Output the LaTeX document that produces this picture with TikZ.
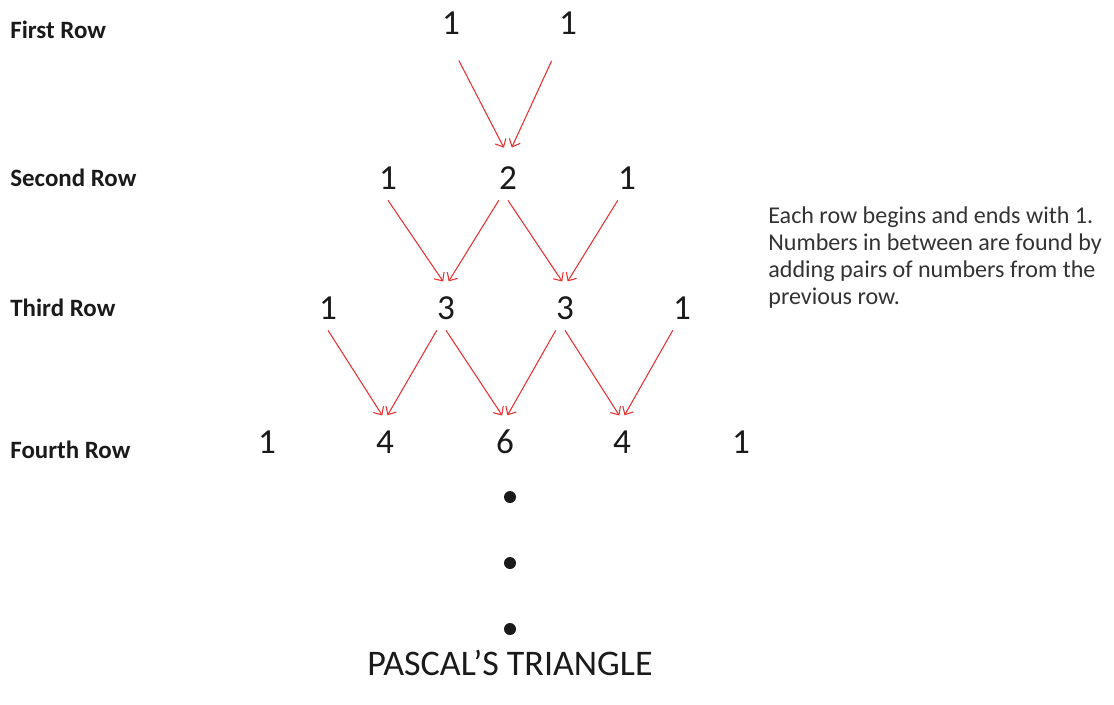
\documentclass[tikz,border=0pt]{standalone}
\usepackage{fontspec}
\setmainfont{Carlito}
\usepackage{tikz}
\usetikzlibrary{arrows.meta}
\definecolor{arrowred}{HTML}{E8302F}
\definecolor{ink}{HTML}{1A1A1A}
\definecolor{note}{HTML}{333333}

\begin{document}
\begin{tikzpicture}[
  x=0.02cm, y=-0.02cm,
  num/.style={text=ink, font=\fontsize{20}{22}\selectfont, minimum height=0.88cm, inner sep=0pt},
  rowlabel/.style={anchor=west, text=ink, inner sep=0pt, font=\fontsize{14.2}{16}\selectfont\bfseries},
  arr/.style={-{Straight Barb[length=1.3mm, width=2.4mm]}, arrowred, line width=0.6pt, shorten >=0.1cm}
]
\useasboundingbox (0,0) rectangle (1114,704);

% row labels
\node[rowlabel] (lab1) at (10,30) {First Row};
\node[rowlabel] (lab2) at (10,178) {Second Row};
\node[rowlabel] (lab3) at (10,308) {Third Row};
\node[rowlabel] (lab4) at (10,450) {Fourth Row};

% numbers
\node[num] (r1a) at (451,23) {1};
\node[num] (r1b) at (568,23) {1};
\node[num] (r2a) at (388,178) {1};
\node[num] (r2b) at (508,178) {2};
\node[num] (r2c) at (627,178) {1};
\node[num] (r3a) at (328,308) {1};
\node[num] (r3b) at (446,308) {3};
\node[num] (r3c) at (565,308) {3};
\node[num] (r3d) at (682,308) {1};
\node[num] (r4a) at (267,442) {1};
\node[num] (r4b) at (385,442) {4};
\node[num] (r4c) at (505,442) {6};
\node[num] (r4d) at (622,442) {4};
\node[num] (r4e) at (741,442) {1};

% sums
\draw[arr, shorten <=0.34cm, shorten >=0.18cm] (r1a.south) -- (r2b.north);
\draw[arr, shorten <=0.34cm, shorten >=0.18cm] (r1b.south west) -- (r2b.north);
\draw[arr] (r2a.south) -- (r3b.north);
\draw[arr] (r2b.south west) -- (r3b.north);
\draw[arr] (r2b.south) -- (r3c.north);
\draw[arr] (r2c.south west) -- (r3c.north);
\draw[arr] (r3a.south) -- (r4b.north);
\draw[arr] (r3b.south west) -- (r4b.north);
\draw[arr] (r3b.south) -- (r4c.north);
\draw[arr] (r3c.south west) -- (r4c.north);
\draw[arr] (r3c.south) -- (r4d.north);
\draw[arr] (r3d.south west) -- (r4d.north);

% and so on
\fill[ink] (510,497) circle (6);
\fill[ink] (510,563) circle (6);
\fill[ink] (510,629) circle (6);

\node[text=note, anchor=north west, inner sep=0pt, align=left,
  font=\fontsize{13.7}{15.4}\selectfont] (rule) at (768,206)
  {Each row begins and ends with 1.\\Numbers in between are found by\\adding pairs of numbers from the\\previous row.};

\node[text=ink, font=\fontsize{20.5}{22}\selectfont] (title) at (510,663) {PASCAL’S TRIANGLE};
\end{tikzpicture}
\end{document}
